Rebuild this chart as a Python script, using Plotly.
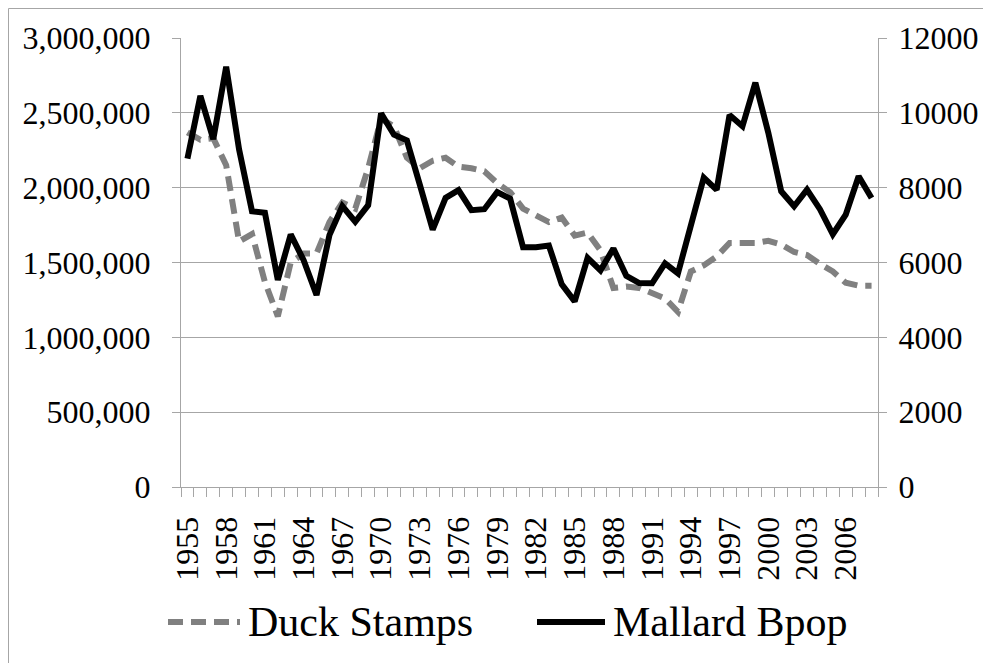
import plotly.graph_objects as go

years = list(range(1955, 2009))

duck_stamps = [2370000, 2320000, 2330000, 2150000, 1640000, 1690000, 1370000, 1140000, 1500000, 1560000,
               1560000, 1770000, 1900000, 1860000, 2130000, 2460000, 2410000, 2200000, 2130000, 2180000,
               2200000, 2140000, 2130000, 2110000, 2030000, 1970000, 1860000, 1820000, 1770000, 1800000,
               1680000, 1700000, 1580000, 1330000, 1340000, 1330000, 1300000, 1260000, 1170000, 1440000,
               1480000, 1540000, 1630000, 1630000, 1630000, 1645000, 1620000, 1570000, 1550000, 1490000,
               1440000, 1365000, 1345000, 1345000]

mallard_bpop = [8777, 10452, 9296, 11234, 9024, 7371, 7330, 5535, 6749, 6063,
                5131, 6731, 7509, 7089, 7531, 9986, 9416, 9265, 8079, 6880,
                7727, 7933, 7397, 7425, 7883, 7707, 6409, 6408, 6456, 5415,
                4961, 6124, 5790, 6375, 5645, 5452, 5444, 5976, 5708, 6980,
                8269, 7942, 9940, 9640, 10806, 9470, 7904, 7504, 7950, 7425,
                6755, 7277, 8307, 7724]

tick_years = list(range(1955, 2007, 3))
left_ticks = [0, 500000, 1000000, 1500000, 2000000, 2500000, 3000000]
right_ticks = [0, 2000, 4000, 6000, 8000, 10000, 12000]

FONT = "Liberation Serif, Times New Roman, serif"
GRID = "#a6a6a6"

# page offset from the default body margin of the html page
OFF = 8
W, H = 991 - OFF, 663 - OFF
L, R, T, B = 181 - OFF, 878 - OFF, 38 - OFF, 487 - OFF


def px(x):
    return (x - OFF - L) / (R - L)


def py(y):
    return 1 - (y - OFF - T) / (B - T)


fig = go.Figure()
fig.add_trace(go.Scatter(
    x=years, y=duck_stamps, name="Duck Stamps", mode="lines",
    line=dict(color="#808080", width=6, dash="15px,8px"), yaxis="y"))
fig.add_trace(go.Scatter(
    x=years, y=mallard_bpop, name="Mallard Bpop", mode="lines",
    line=dict(color="#000000", width=6), yaxis="y2"))

fig.update_layout(
    width=W, height=H,
    margin=dict(l=L, r=W - R, t=T, b=H - B, pad=0),
    plot_bgcolor="white", paper_bgcolor="white",
    showlegend=False,
    font=dict(family=FONT, size=32, color="black"),
    xaxis=dict(
        range=[1954.5, 2008.5], tickmode="array", tickvals=tick_years,
        ticktext=[str(y) for y in tick_years], tickangle=-90,
        ticks="", showgrid=False, zeroline=False,
        showline=True, linecolor=GRID, linewidth=1,
        ticklabelstandoff=16,
        tickfont=dict(family=FONT, size=32, color="black"),
        minor=dict(ticks="outside", tickmode="linear", tick0=1954.5, dtick=1,
                   ticklen=9, tickcolor=GRID, tickwidth=1, showgrid=False),
    ),
    yaxis=dict(
        range=[0, 3000000], tickmode="array", tickvals=left_ticks,
        tickformat=",", showgrid=True, gridcolor=GRID, gridwidth=1,
        zeroline=False, showline=True, linecolor=GRID, linewidth=1,
        ticks="outside", ticklen=8, tickcolor=GRID,
        ticklabelstandoff=15,
        tickfont=dict(family=FONT, size=32, color="black"),
    ),
    yaxis2=dict(
        range=[0, 12000], tickmode="array", tickvals=right_ticks,
        tickformat="d", overlaying="y", side="right",
        showgrid=False, zeroline=False, showline=True, linecolor=GRID, linewidth=1,
        ticks="outside", ticklen=8, tickcolor=GRID,
        ticklabelstandoff=5,
        tickfont=dict(family=FONT, size=32, color="black"),
    ),
)

legend_y = 622
shapes = [
    # outer chart border (top and left visible)
    dict(type="line", xref="paper", yref="paper", x0=px(8.5), x1=px(991), y0=py(8.5), y1=py(8.5),
         line=dict(color=GRID, width=1)),
    dict(type="line", xref="paper", yref="paper", x0=px(8.5), x1=px(8.5), y0=py(8.5), y1=py(663),
         line=dict(color=GRID, width=1)),
    # legend samples
    dict(type="line", xref="paper", yref="paper", x0=px(168), x1=px(240),
         y0=py(legend_y), y1=py(legend_y), line=dict(color="#808080", width=6, dash="15px,8px")),
    dict(type="line", xref="paper", yref="paper", x0=px(537), x1=px(605),
         y0=py(legend_y), y1=py(legend_y), line=dict(color="#000000", width=6)),
]
annotations = [
    dict(text="Duck Stamps", xref="paper", yref="paper", x=px(246), y=py(legend_y),
         xanchor="left", yanchor="middle", showarrow=False,
         font=dict(family=FONT, size=42, color="black")),
    dict(text="Mallard Bpop", xref="paper", yref="paper", x=px(611), y=py(legend_y),
         xanchor="left", yanchor="middle", showarrow=False,
         font=dict(family=FONT, size=42, color="black")),
]
fig.update_layout(shapes=shapes, annotations=annotations)

fig.write_html("out.html")
